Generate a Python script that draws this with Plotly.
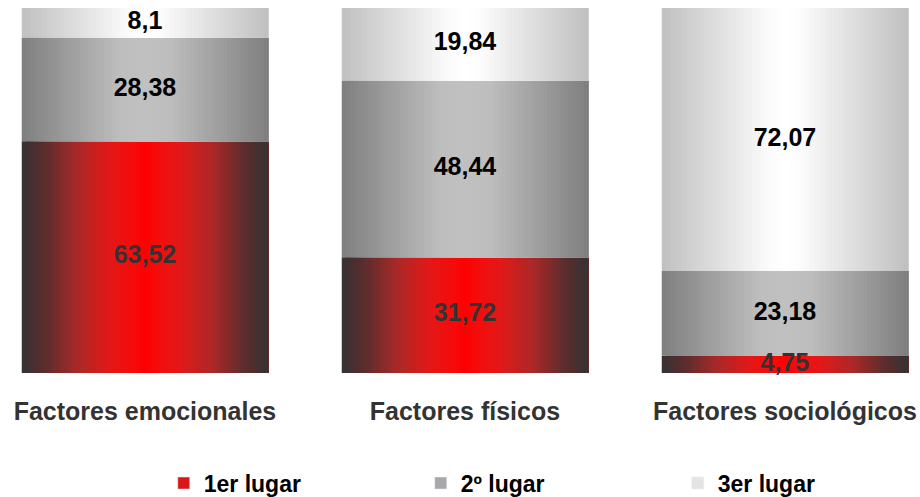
import plotly.graph_objects as go

# data
categories = ["Factores emocionales", "Factores físicos", "Factores sociológicos"]
series_names = ["1er lugar", "2º lugar", "3er lugar"]
primer_lugar = [63.52, 31.72, 4.75]
segundo_lugar = [28.38, 48.44, 23.18]
tercer_lugar = [8.1, 19.84, 72.07]
labels_1 = ["63,52", "31,72", "4,75"]
labels_2 = ["28,38", "48,44", "23,18"]
labels_3 = ["8,1", "19,84", "72,07"]

FONT = "Arial, 'Liberation Sans', sans-serif"
BAR_WIDTH = 0.77
STRIPS = 60

# gradient stops: distance from bar centre (0) to edge (1) -> rgb
RED_STOPS = [(0.0, (255, 0, 0)), (0.1, (245, 12, 12)), (0.3, (225, 25, 25)),
             (0.55, (170, 40, 40)), (0.8, (95, 45, 45)), (1.0, (52, 50, 52))]
GRAY_STOPS = [(0.0, (192, 192, 192)), (0.2, (190, 190, 190)), (1.0, (127, 127, 127))]
LIGHT_STOPS = [(0.0, (255, 255, 255)), (0.12, (252, 252, 252)), (1.0, (192, 192, 192))]


def gradient_color(stops, d):
    for (d0, c0), (d1, c1) in zip(stops[:-1], stops[1:]):
        if d0 <= d <= d1:
            f = (d - d0) / (d1 - d0)
            rgb = [round(a + (b - a) * f) for a, b in zip(c0, c1)]
            return "rgb({},{},{})".format(*rgb)
    return "rgb({},{},{})".format(*stops[-1][1])


def add_gradient_segment(fig, values, bases, stops):
    step = BAR_WIDTH / STRIPS
    for i in range(STRIPS):
        t = (i + 0.5) / STRIPS
        d = abs(t - 0.5) * 2
        fig.add_trace(
            go.Bar(
                x=categories,
                y=values,
                base=bases,
                offset=-BAR_WIDTH / 2 + i * step,
                width=BAR_WIDTH - i * step,
                marker={"color": gradient_color(stops, d), "line": {"width": 0}},
                showlegend=False,
                hoverinfo="skip",
            )
        )


fig = go.Figure()

base_2 = primer_lugar
base_3 = [a + b for a, b in zip(primer_lugar, segundo_lugar)]

add_gradient_segment(fig, primer_lugar, [0, 0, 0], RED_STOPS)
add_gradient_segment(fig, segundo_lugar, base_2, GRAY_STOPS)
add_gradient_segment(fig, tercer_lugar, base_3, LIGHT_STOPS)

# value labels
label_sets = [
    (primer_lugar, [0, 0, 0], labels_1, "#333333"),
    (segundo_lugar, base_2, labels_2, "#000000"),
    (tercer_lugar, base_3, labels_3, "#000000"),
]
for values, bases, texts, color in label_sets:
    fig.add_trace(
        go.Scatter(
            x=categories,
            y=[b + v / 2 for v, b in zip(values, bases)],
            mode="text",
            text=texts,
            textfont={"family": FONT, "size": 25, "color": color, "weight": "bold"},
            showlegend=False,
            hoverinfo="skip",
            cliponaxis=False,
        )
    )

# legend entries
legend_colors = ["#d81818", "#a8a8a8", "#e4e4e4"]
for name, color in zip(series_names, legend_colors):
    fig.add_trace(
        go.Bar(x=[None], y=[None], name=name, marker={"color": color}, showlegend=True)
    )

fig.update_layout(
    width=920,
    height=497,
    barmode="overlay",
    plot_bgcolor="white",
    paper_bgcolor="white",
    margin={"l": 0, "r": 0, "t": 8, "b": 124, "autoexpand": False},
    xaxis={
        "type": "category",
        "range": [-0.453, 2.422],
        "autorange": False,
        "automargin": False,
        "showgrid": False,
        "showline": False,
        "zeroline": False,
        "ticks": "",
        "ticklabelstandoff": 21,
        "tickfont": {"family": FONT, "size": 25, "color": "#333333", "weight": "bold"},
    },
    yaxis={"range": [0, 100], "visible": False, "automargin": False},
    legend={
        "orientation": "h",
        "xref": "container",
        "yref": "container",
        "x": 0.178,
        "xanchor": "left",
        "y": 0.028,
        "yanchor": "middle",
        "entrywidth": 212,
        "font": {"family": FONT, "size": 23, "color": "#000000", "weight": "bold"},
        "bgcolor": "rgba(0,0,0,0)",
    },
)

# drop the page's default body margin so the figure sits at the top-left corner
fig.write_html(
    "out.html",
    config={"displayModeBar": False},
    post_script="document.body.style.margin='0'; document.body.style.overflow='hidden';",
)
